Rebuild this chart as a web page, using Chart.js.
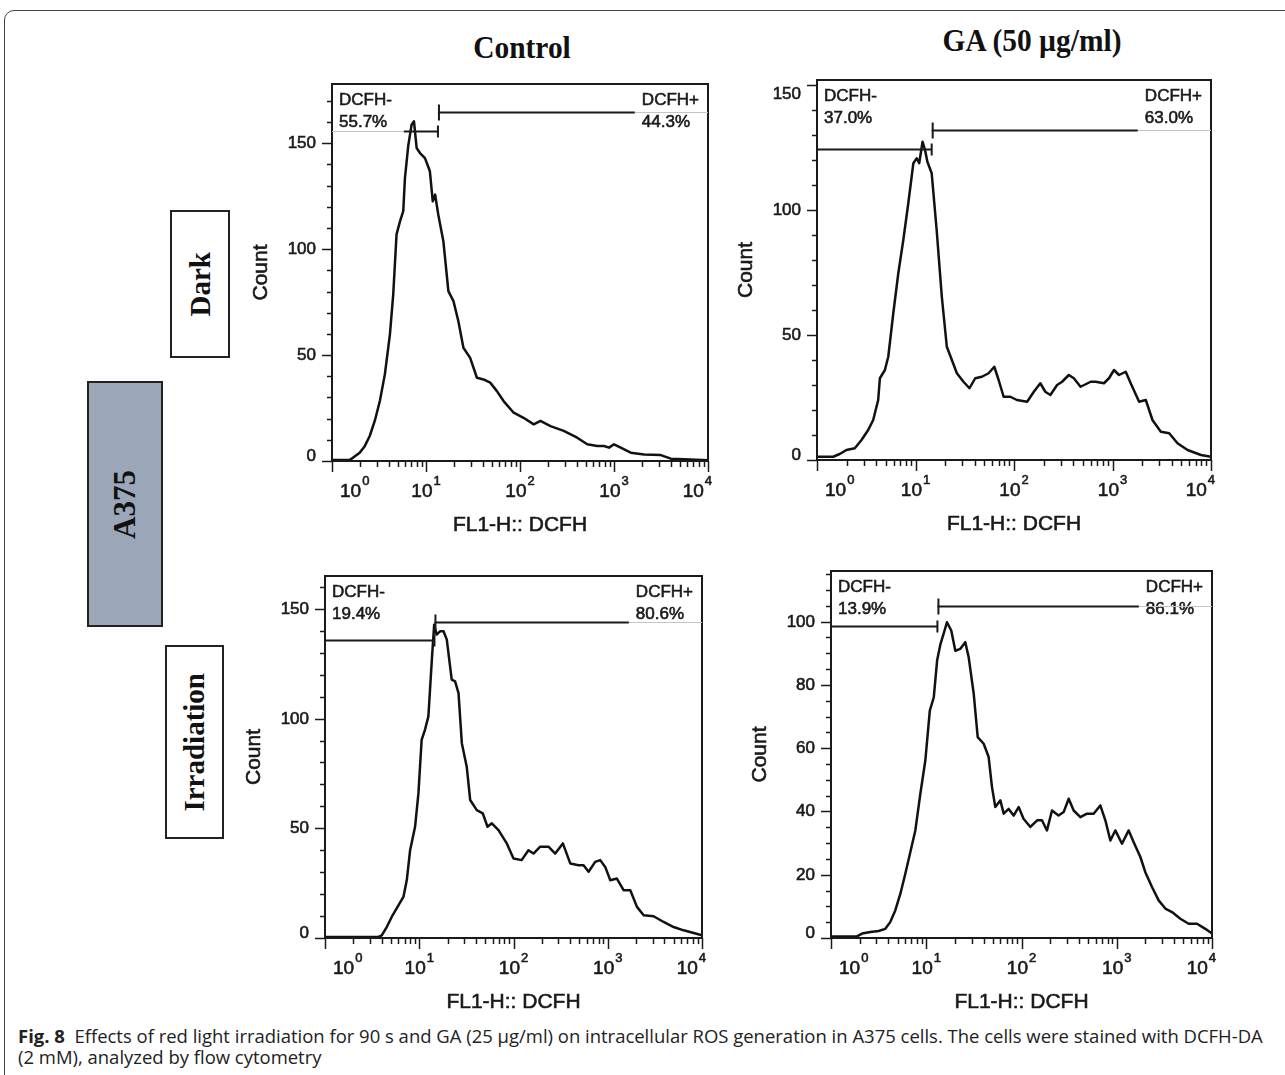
<!DOCTYPE html>
<html>
<head>
<meta charset="utf-8">
<script src="https://cdn.jsdelivr.net/npm/chart.js@4.4.0/dist/chart.umd.min.js"></script>
<style>
  html, body { margin: 0; padding: 0; background: #fff; }
  body { width: 1285px; height: 1075px; position: relative; overflow: hidden; }
  .frame { position: absolute; left: 4px; top: 10px; width: 1320px; height: 1120px;
           border: 1.5px solid #444; border-radius: 10px; }
  .col-head { position: absolute; font-family: "Liberation Serif", "Times New Roman", serif;
              font-weight: bold; font-size: 32px; line-height: 32px; white-space: nowrap;
              transform: translateX(-50%) scaleX(0.92); color: #111; }
  .rowbox { position: absolute; box-sizing: border-box; border: 2px solid #222;
            display: flex; align-items: center; justify-content: center; }
  .rowbox span { writing-mode: vertical-rl; transform: rotate(180deg);
                 font-family: "Liberation Serif", "Times New Roman", serif; font-weight: bold;
                 font-size: 29px; color: #111; white-space: nowrap; }
  #caption { position: absolute; left: 18px; top: 1026px; font-family: "Open Sans", sans-serif;
             font-size: 18px; line-height: 21px; color: #222; transform-origin: 0 0; white-space: nowrap; }
  canvas { position: absolute; }
</style>
</head>
<body>
<div class="frame"></div>
<div class="col-head" style="left:522px; top:31px;">Control</div>
<div class="col-head" style="left:1032px; top:24px;">GA (50 µg/ml)</div>
<div class="rowbox" style="left:170px; top:210px; width:60px; height:148px;"><span>Dark</span></div>
<div class="rowbox" style="left:87px; top:381px; width:76px; height:246px; background:#9ba6b9;"><span style="font-size:31px;">A375</span></div>
<div class="rowbox" style="left:165px; top:645px; width:59px; height:194px;"><span>Irradiation</span></div>
<div id="caption">
  <div id="capLine1"><b>Fig. 8</b>&nbsp;&nbsp;Effects of red light irradiation for 90 s and GA (25 µg/ml) on intracellular ROS generation in A375 cells. The cells were stained with DCFH-DA</div>
  <div>(2 mM), analyzed by flow cytometry</div>
</div>

<script>
// ---- histogram data (FL1-H channel value, count) ----
const ctrlDarkX = [1.0, 1.54, 1.68, 1.97, 2.23, 2.52, 2.85, 3.23, 3.65, 4.13, 4.48, 4.86, 5.28, 5.73, 5.97, 6.48, 7.03, 7.45, 7.95, 8.63, 9.75, 11.0, 11.8, 12.5, 13.5, 15.3, 17.3, 19.6, 22.1, 25.0, 29.5, 34.8, 40.9, 48.2, 56.8, 66.9, 85.6, 109, 140, 165, 211, 292, 406, 519, 664, 782, 885, 1000, 1178, 1507, 2090, 3148, 4027, 5585, 10000];
const ctrlDarkY = [0.5, 0.5, 1.6, 3.9, 7, 11.8, 18.9, 28.3, 40.9, 59.7, 78.6, 107, 113, 118, 133.6, 149, 158.8, 160.4, 147.8, 145.4, 143, 136.8, 122.6, 125.8, 116.4, 103.8, 80.2, 75.5, 66, 53.5, 48.7, 39.3, 38.5, 37, 33, 28.3, 22.8, 20.4, 17.3, 18.9, 16.5, 14.2, 11, 7.9, 7.1, 7.1, 6.3, 7.9, 6.3, 3.9, 3.1, 2.8, 1.1, 0.8, 0.3];

const gaDarkX = [1.0, 1.46, 1.70, 1.99, 2.42, 2.83, 3.31, 3.72, 4.18, 4.35, 4.89, 5.29, 5.95, 6.69, 7.52, 8.45, 9.51, 10.3, 10.9, 11.8, 12.5, 13.2, 14.6, 16.4, 18.5, 20.8, 23.4, 26.3, 30.7, 35.3, 40.4, 47.2, 55.2, 63.1, 69.8, 78.5, 91.8, 107, 136, 159, 185, 208, 234, 274, 308, 360, 405, 474, 600, 674, 819, 921, 1036, 1165, 1362, 1531, 1862, 2178, 2545, 3096, 3765, 4571, 5781, 7907, 10000];
const gaDarkY = [1.3, 1.3, 2.4, 4, 4.7, 8, 12, 16, 24, 32.7, 36, 41.3, 58.7, 74.7, 88, 102.7, 118.7, 120.7, 118.7, 127.3, 124, 119.3, 114.7, 92, 65.3, 45.3, 40, 34.7, 31.3, 28.7, 32.7, 33.3, 34.7, 37.3, 32, 25.3, 25.3, 24, 23.3, 27.3, 30.7, 27.3, 26, 30, 31.3, 34, 32.7, 29.3, 31.3, 31.3, 30.7, 32.7, 36, 34, 35.3, 30.7, 23.3, 24, 16, 11.3, 10.7, 6.7, 4, 2, 1.3];

const ctrlIrrX = [1.0, 3.69, 4.0, 4.52, 5.10, 6.01, 6.79, 7.37, 8.0, 9.03, 9.80, 10.6, 11.5, 12.5, 13.6, 14.4, 15.3, 16.6, 18.1, 19.6, 22.1, 24.0, 26.1, 28.3, 31.9, 34.7, 40.8, 47.2, 53.0, 58.9, 69.3, 84.9, 100, 122, 144, 163, 192, 235, 277, 334, 400, 490, 554, 626, 736, 832, 940, 1064, 1250, 1472, 1734, 2042, 2404, 3069, 3917, 5000, 6383, 8166, 10000];
const ctrlIrrY = [0.5, 0.5, 1.2, 5, 9.6, 14.9, 18.7, 26.3, 40, 50.7, 65.9, 90.3, 94.9, 101, 126.8, 142.8, 138.3, 139.8, 139.8, 136, 117.8, 117, 111.6, 88.8, 78.1, 62.9, 58.3, 56.8, 50.7, 52.3, 49.2, 43.1, 36.2, 35.5, 40, 38.5, 41.6, 41.6, 38.5, 43.1, 34, 33.2, 33.2, 30.2, 34.7, 35.5, 32.4, 26.3, 27.1, 21.8, 21.8, 14.2, 10.4, 9.9, 7.3, 5, 3.5, 2.3, 1.2];

const gaIrrX = [1.0, 1.87, 2.12, 2.59, 3.16, 3.72, 4.20, 4.73, 5.35, 6.03, 6.81, 7.68, 8.67, 9.78, 10.9, 12.0, 13.0, 14.1, 15.2, 16.5, 18.3, 20.2, 22.8, 25.7, 27.9, 31.5, 34.7, 40.1, 45.2, 49.0, 53.1, 60.0, 65.0, 73.3, 82.7, 93.3, 105, 124, 146, 164, 185, 209, 245, 277, 313, 353, 415, 487, 572, 672, 759, 857, 966, 1135, 1334, 1506, 1770, 1995, 2344, 2754, 3236, 3802, 4653, 5689, 6966, 8511, 10000];
const gaIrrY = [0.5, 0.5, 1.4, 1.9, 2.2, 2.9, 5.1, 8.7, 14, 20.3, 27.2, 34, 45.6, 56.1, 71.9, 76.1, 87.7, 92.9, 96.1, 99.8, 97.2, 90.8, 91.4, 93.5, 88.7, 77.2, 63.5, 61.4, 57.2, 47.7, 41.4, 43.5, 39.3, 40.8, 38.7, 41.4, 37.7, 35.1, 37.2, 37.2, 34, 40.3, 38.7, 39.8, 44, 40.3, 38.2, 39.3, 39.3, 41.9, 37.2, 30.8, 34, 29.8, 34, 30.3, 25.6, 20.8, 16.1, 11.9, 9.3, 8.2, 6.1, 4.5, 4.5, 2.9, 1.4];

// ---- gates (marker position on FL1-H, bar heights in counts) ----
const gateCut = [13.4, 14.6, 14.5, 13.1];
const negBar = [155.7, 124.4, 136, 98.7];
const posBar = [164.6, 132, 144.2, 104.8];
const negPct = ["55.7%", "37.0%", "19.4%", "13.9%"];
const posPct = ["44.3%", "63.0%", "80.6%", "86.1%"];
const negName = "DCFH-";
const posName = "DCFH+";

// ---- axes ----
const yMaxes = [178, 152, 165, 116];
const yMajorSteps = [50, 50, 50, 20];
const yMinorSteps = [10, 10, 10, 5];
const decades = [0, 1, 2, 3, 4];
const xTitle = "FL1-H:: DCFH";
const yTitle = "Count";

const seriesX = [ctrlDarkX, gaDarkX, ctrlIrrX, gaIrrX];
const seriesY = [ctrlDarkY, gaDarkY, ctrlIrrY, gaIrrY];

// plot box of each panel on the page (left, right, top, bottom)
const boxes = [
  { L: 332, R: 708, T: 84, B: 461 },
  { L: 817, R: 1211, T: 80, B: 460 },
  { L: 325, R: 702, T: 576, B: 938 },
  { L: 831, R: 1212, T: 571, B: 938 }
];

const SANS = '"Liberation Sans", Arial, sans-serif';
const INK = "#1a1a1a";

// the scanned figure has slightly heavy type, so fill + thin stroke
function txt(ctx, s, x, y) {
  ctx.fillText(s, x, y);
  ctx.lineWidth = 0.6;
  ctx.strokeText(s, x, y);
}

function flowDecor(i) {
  return {
    id: "flowDecor" + i,
    afterDatasetsDraw(chart) {
      const ctx = chart.ctx, a = chart.chartArea;
      const xs = chart.scales.x, ys = chart.scales.y;
      ctx.save();
      ctx.fillStyle = INK;
      ctx.strokeStyle = INK;

      // y ticks + labels
      ctx.font = "17px " + SANS;
      ctx.textAlign = "right";
      ctx.textBaseline = "middle";
      const n = Math.floor(yMaxes[i] / yMinorSteps[i] + 1e-6);
      for (let k = 0; k <= n; k++) {
        const v = k * yMinorSteps[i];
        const py = Math.round(ys.getPixelForValue(v)) + 0.5;
        const major = v % yMajorSteps[i] === 0;
        ctx.lineWidth = 1.5;
        ctx.beginPath();
        ctx.moveTo(a.left - (major ? 10 : 5), py);
        ctx.lineTo(a.left, py);
        ctx.stroke();
        if (major) {
          const ly = Math.min(Math.max(py, a.top + 14), a.bottom - 5);
          txt(ctx, String(v), a.left - 16, ly);
        }
      }

      // x ticks (log decades with 2..9 minors)
      ctx.lineWidth = 1.5;
      decades.forEach(d => {
        const base = Math.pow(10, d);
        const px = Math.round(xs.getPixelForValue(base)) + 0.5;
        ctx.beginPath();
        ctx.moveTo(px, a.bottom);
        ctx.lineTo(px, a.bottom + 11);
        ctx.stroke();
        if (d < 4) {
          for (let m = 2; m <= 9; m++) {
            const mx = Math.round(xs.getPixelForValue(m * base)) + 0.5;
            ctx.beginPath();
            ctx.moveTo(mx, a.bottom);
            ctx.lineTo(mx, a.bottom + 6);
            ctx.stroke();
          }
        }
      });

      // x tick labels 10^d
      ctx.textAlign = "left";
      ctx.textBaseline = "alphabetic";
      decades.forEach(d => {
        ctx.font = "19px " + SANS;
        const wb = ctx.measureText("10").width;
        ctx.font = "13px " + SANS;
        const ws = ctx.measureText(String(d)).width;
        const tot = wb + ws + 1;
        let lx = xs.getPixelForValue(Math.pow(10, d)) - tot / 2;
        if (d === 0) lx = Math.max(lx, a.left + 8);
        if (d === 4) lx = Math.min(lx, a.right + 4 - tot);
        ctx.font = "19px " + SANS;
        txt(ctx, "10", lx, a.bottom + 36);
        ctx.font = "13px " + SANS;
        txt(ctx, String(d), lx + wb + 1, a.bottom + 24);
      });

      // axis titles
      ctx.font = "21px " + SANS;
      ctx.textAlign = "center";
      txt(ctx, xTitle, (a.left + a.right) / 2, a.bottom + 70);
      ctx.save();
      ctx.translate(a.left - 71, (a.top + a.bottom) / 2);
      ctx.rotate(-Math.PI / 2);
      ctx.textBaseline = "middle";
      txt(ctx, yTitle, 0, 0);
      ctx.restore();

      // plot frame
      ctx.lineWidth = 2;
      ctx.strokeRect(a.left, a.top, a.right - a.left, a.bottom - a.top);

      // gate labels
      ctx.font = "17px " + SANS;
      ctx.textAlign = "left";
      ctx.textBaseline = "alphabetic";
      const b1 = a.top + 21, b2 = a.top + 43;
      const nx = a.left + 7;
      txt(ctx, negName, nx, b1);
      txt(ctx, negPct[i], nx, b2);
      const px0 = a.right - 9 - ctx.measureText(posName).width;
      txt(ctx, posName, px0, b1);
      txt(ctx, posPct[i], px0, b2);
      const wNeg = Math.max(ctx.measureText(negName).width, ctx.measureText(negPct[i]).width);

      // gate bars
      const gx = xs.getPixelForValue(gateCut[i]);
      const yN = Math.round(ys.getPixelForValue(negBar[i])) + 0.5;
      const yP = Math.round(ys.getPixelForValue(posBar[i])) + 0.5;
      const underText = y => y >= b1 - 14 && y <= b2 + 9;

      function seg(x1, x2, y, gray) {
        ctx.beginPath();
        ctx.strokeStyle = gray ? "#c4c4c4" : INK;
        ctx.lineWidth = gray ? 1.2 : 2;
        ctx.moveTo(x1, y);
        ctx.lineTo(x2, y);
        ctx.stroke();
      }
      // negative gate: left edge -> cut
      if (underText(yN)) {
        const gEnd = Math.min(nx + wNeg + 12, gx);
        seg(a.left, gEnd, yN, true);
        seg(gEnd, gx, yN, false);
      } else {
        seg(a.left, gx, yN, false);
      }
      // positive gate: cut -> right edge
      if (underText(yP)) {
        const gStart = Math.max(px0 - 7, gx);
        seg(gx, gStart, yP, false);
        seg(gStart, a.right, yP, true);
      } else {
        seg(gx, a.right, yP, false);
      }
      ctx.strokeStyle = INK;
      ctx.lineWidth = 2;
      ctx.beginPath();
      ctx.moveTo(gx, yN - 6); ctx.lineTo(gx, yN + 6);
      ctx.moveTo(gx + 1, yP - 8); ctx.lineTo(gx + 1, yP + 8);
      ctx.stroke();
      ctx.restore();
    }
  };
}

function makePanel(i) {
  const b = boxes[i];
  const padL = 100, padT = 20, padR = 20, padB = 95;
  const w = b.R - b.L + padL + padR;
  const h = b.B - b.T + padT + padB;
  const cv = document.createElement("canvas");
  cv.width = w; cv.height = h;
  cv.style.left = (b.L - padL) + "px";
  cv.style.top = (b.T - padT) + "px";
  cv.style.width = w + "px";
  cv.style.height = h + "px";
  document.body.appendChild(cv);

  const pts = seriesX[i].map((v, k) => ({ x: v, y: seriesY[i][k] }));

  new Chart(cv, {
    type: "line",
    data: {
      datasets: [{
        data: pts,
        borderColor: "#111",
        borderWidth: 2.5,
        borderJoinStyle: "round",
        pointRadius: 0,
        tension: 0,
        fill: false
      }]
    },
    options: {
      responsive: false,
      animation: false,
      devicePixelRatio: 1,
      layout: { padding: { left: 0, top: padT, right: padR, bottom: 0 } },
      plugins: { legend: { display: false }, tooltip: { enabled: false } },
      scales: {
        x: {
          type: "logarithmic", min: 1, max: 10000,
          grid: { display: false }, border: { display: false }, ticks: { display: false },
          afterFit: s => { s.height = padB; }
        },
        y: {
          type: "linear", min: 0, max: yMaxes[i],
          grid: { display: false }, border: { display: false }, ticks: { display: false },
          afterFit: s => { s.width = padL; }
        }
      }
    },
    plugins: [flowDecor(i)]
  });
}

[0, 1, 2, 3].forEach(makePanel);

// squeeze the caption to the reference line length
const cap = document.getElementById("caption");
const line1 = document.getElementById("capLine1");
const sc = 1244 / line1.scrollWidth;
cap.style.transform = "scaleX(" + sc.toFixed(3) + ")";
</script>
</body>
</html>
